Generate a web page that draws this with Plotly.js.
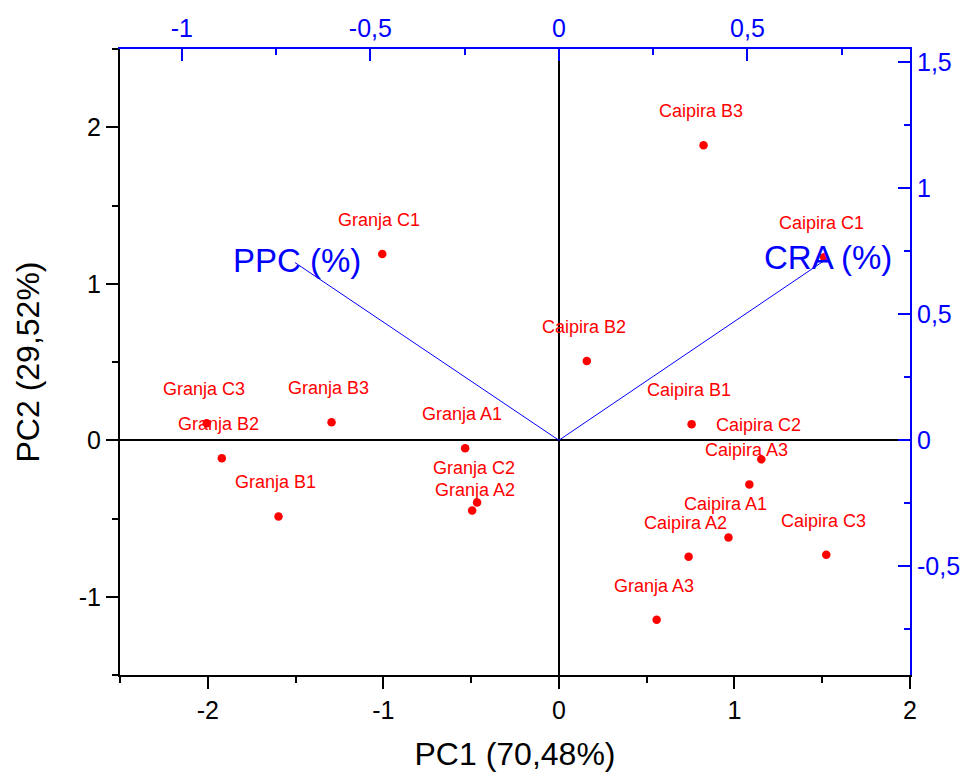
<!DOCTYPE html>
<html>
<head>
<meta charset="utf-8">
<script src="https://cdn.plot.ly/plotly-3.0.1.min.js"></script>
<style>html,body{margin:0;padding:0;background:#fff}#chart{width:972px;height:776px}</style>
</head>
<body>
<div id="chart"></div>
<script>
// Scores (PC1, PC2)
const sampleNames = ["Granja C1","Caipira B3","Caipira C1","Caipira B2","Granja B3","Granja C3","Granja B2","Granja B1","Granja A1","Granja C2","Granja A2","Caipira B1","Caipira C2","Caipira A3","Caipira A1","Caipira A2","Caipira C3","Granja A3"];
const pc1Scores = [-1.006, 0.824, 1.511, 0.159, -1.295, -2.006, -1.920, -1.597, -0.534, -0.466, -0.494, 0.756, 1.153, 1.085, 0.966, 0.739, 1.523, 0.557];
const pc2Scores = [1.190, 1.885, 1.170, 0.506, 0.115, 0.109, -0.115, -0.487, -0.051, -0.397, -0.449, 0.103, -0.122, -0.282, -0.622, -0.744, -0.731, -1.147];

// Loadings
const loadingNames = ["PPC (%)", "CRA (%)"];
const loadingPC1 = [-0.700, 0.709];
const loadingPC2 = [0.705, 0.718];

// Tick labels
const xTickVals = [-2, -1, 0, 1, 2];
const xTickText = ["-2", "-1", "0", "1", "2"];
const yTickVals = [-1, 0, 1, 2];
const yTickText = ["-1", "0", "1", "2"];
const x2TickVals = [-1, -0.5, 0, 0.5];
const x2TickText = ["-1", "-0,5", "0", "0,5"];
const y2TickVals = [-0.5, 0, 0.5, 1, 1.5];
const y2TickText = ["-0,5", "0", "0,5", "1", "1,5"];

const FONT = "Liberation Sans, Arial, sans-serif";
const BLUE = "#0000ff";
const RED = "#ff0000";

const traces = [];
// loading vectors
loadingNames.forEach((n, i) => {
  traces.push({
    x: [0, loadingPC1[i]], y: [0, loadingPC2[i]],
    xaxis: "x2", yaxis: "y2", mode: "lines",
    line: {color: BLUE, width: 1}, hoverinfo: "skip", showlegend: false
  });
});
// scores
traces.push({
  x: pc1Scores, y: pc2Scores, mode: "markers", type: "scatter",
  marker: {color: RED, size: 8.5}, text: sampleNames, showlegend: false
});

const labelShift = {"Granja A2": [3, 21]};
const annotations = sampleNames.map((n, i) => {
  const s = labelShift[n] || [-3, 34];
  return {
    x: pc1Scores[i], y: pc2Scores[i], xref: "x", yref: "y",
    text: n, showarrow: false, xanchor: "center", yanchor: "middle",
    xshift: s[0], yshift: s[1],
    font: {family: FONT, size: 18, color: RED}
  };
});
loadingNames.forEach((n, i) => {
  annotations.push({
    x: loadingPC1[i], y: loadingPC2[i], xref: "x2", yref: "y2",
    text: n, showarrow: false, xanchor: "center", yanchor: "middle",
    xshift: 2, yshift: 2,
    font: {family: FONT, size: 33, color: BLUE}
  });
});

const xr = [-2.5, 2], yr = [-1.5, 2.5];
const xScale = 176 / 378, yScale = 156.5 / 252;

const layout = {
  width: 972, height: 776,
  margin: {l: 120, r: 62, t: 49, b: 101},
  paper_bgcolor: "#fff", plot_bgcolor: "#fff",
  font: {family: FONT},
  showlegend: false,
  xaxis: {
    range: xr, tickmode: "array", tickvals: xTickVals, ticktext: xTickText,
    ticks: "outside", ticklen: 12, tickwidth: 2, tickcolor: "#000",
    minor: {tickmode: "linear", tick0: 0, dtick: 0.5, ticks: "outside", ticklen: 6, tickwidth: 2, tickcolor: "#000"},
    showline: true, linecolor: "#000", linewidth: 2, mirror: false,
    showgrid: false, zeroline: true, zerolinecolor: "#000", zerolinewidth: 2,
    tickfont: {family: FONT, size: 25, color: "#000"},
    title: {text: "PC1 (70,48%)", font: {family: FONT, size: 32, color: "#000"}, standoff: 20}
  },
  yaxis: {
    range: yr, tickmode: "array", tickvals: yTickVals, ticktext: yTickText,
    ticks: "outside", ticklen: 12, tickwidth: 2, tickcolor: "#000",
    minor: {tickmode: "linear", tick0: 0, dtick: 0.5, ticks: "outside", ticklen: 6, tickwidth: 2, tickcolor: "#000"},
    showline: true, linecolor: "#000", linewidth: 2,
    showgrid: false, zeroline: true, zerolinecolor: "#000", zerolinewidth: 2,
    tickfont: {family: FONT, size: 25, color: "#000"},
    title: {text: "PC2 (29,52%)", font: {family: FONT, size: 32, color: "#000"}, standoff: 30}
  },
  xaxis2: {
    overlaying: "x", side: "top", anchor: "y",
    range: [xr[0] * xScale, xr[1] * xScale],
    tickmode: "array", tickvals: x2TickVals, ticktext: x2TickText,
    ticks: "inside", ticklen: 12, tickwidth: 2, tickcolor: BLUE,
    minor: {tickmode: "linear", tick0: 0, dtick: 0.25, ticks: "inside", ticklen: 6, tickwidth: 2, tickcolor: BLUE},
    showline: true, linecolor: BLUE, linewidth: 2,
    showgrid: false, zeroline: false,
    tickfont: {family: FONT, size: 25, color: BLUE}
  },
  yaxis2: {
    overlaying: "y", side: "right", anchor: "x",
    range: [yr[0] * yScale, yr[1] * yScale],
    tickmode: "array", tickvals: y2TickVals, ticktext: y2TickText,
    ticks: "inside", ticklen: 12, tickwidth: 2, tickcolor: BLUE,
    minor: {tickmode: "linear", tick0: 0, dtick: 0.25, ticks: "inside", ticklen: 6, tickwidth: 2, tickcolor: BLUE},
    showline: true, linecolor: BLUE, linewidth: 2,
    showgrid: false, zeroline: false,
    tickfont: {family: FONT, size: 25, color: BLUE}
  },
  annotations: annotations
};

Plotly.newPlot("chart", traces, layout, {displayModeBar: false, staticPlot: true});
</script>
</body>
</html>
